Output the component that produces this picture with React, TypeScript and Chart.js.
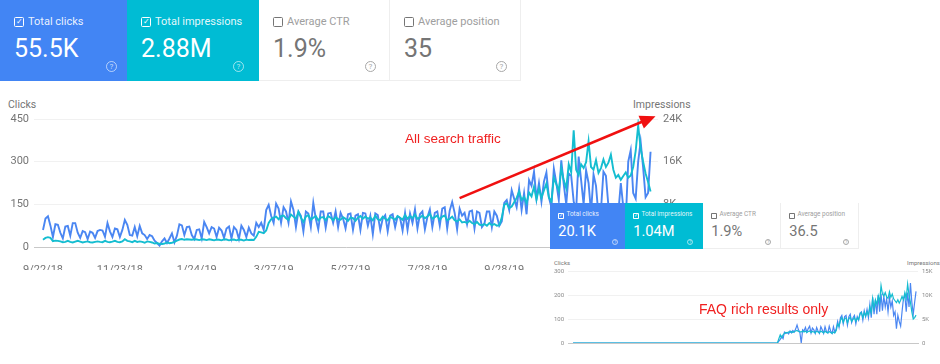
import React, { useEffect, useRef } from "react";
import { Chart, registerables } from "chart.js";

Chart.register(...registerables);

const BLUE = "#4285f4";
const TEAL = "#00bcd4";
const LINE_BLUE = "#4a86f2";
const LINE_TEAL = "#14bdd0";

const dateLabels = ["9/22/18", "11/23/18", "1/24/19", "3/27/19", "5/27/19", "7/28/19", "9/28/19", "11/29/19"];
const mainTicks = dateLabels.slice(0, 7);

const mainClicks = [
  60, 100, 108, 75, 35, 80, 78, 50, 30, 72, 74, 40, 84, 84, 50, 32, 56, 52, 28, 54,
  50, 32, 56, 60, 58, 36, 84, 55, 35, 65, 62, 35, 60, 95, 78, 42, 40, 70, 38, 74,
  48, 42, 28, 42, 38, 22, 14, 5, 20, 30, 14, 30, 48, 16, 40, 80, 76, 42, 70, 72,
  42, 28, 60, 62, 30, 88, 70, 48, 70, 65, 35, 68, 58, 32, 65, 72, 30, 70, 60, 28,
  75, 60, 35, 68, 48, 40, 85, 70, 85, 60, 130, 148, 110, 85, 152, 135, 85, 140, 125, 85,
  160, 130, 70, 125, 110, 55, 125, 118, 70, 155, 100, 62, 125, 125, 68, 118, 120, 85, 125, 70,
  120, 100, 65, 115, 118, 60, 110, 115, 60, 120, 118, 75, 110, 45, 118, 112, 60, 100, 112, 55,
  110, 115, 70, 108, 102, 58, 120, 60, 118, 85, 132, 65, 115, 125, 62, 105, 132, 70, 120, 125,
  75, 135, 140, 65, 128, 158, 120, 62, 135, 110, 120, 80, 125, 128, 65, 125, 120, 70, 82, 125,
  125, 70, 125, 110, 75, 90, 155, 165, 130, 200, 170, 140, 205, 130, 190, 115, 235, 215, 265, 170,
  225, 160, 230, 262, 175, 140, 275, 225, 165, 305, 220, 150, 258, 250, 160, 130, 318, 235, 150, 270,
  225, 120, 255, 215, 110, 130, 265, 250, 145, 100, 110, 105, 120, 225, 140, 95, 300, 340, 190, 170,
  300, 370, 280, 175, 190, 335,
];

const mainImpressions = [
  1350, 1700, 1850, 1700, 1100, 1200, 1150, 1050, 900, 950, 1150, 950, 850, 1000, 1150, 1000, 850, 950, 1050, 900,
  850, 950, 1050, 950, 900, 1150, 950, 900, 1000, 1150, 950, 900, 1050, 1450, 1150, 1050, 900, 1150, 950, 1050,
  950, 800, 1050, 950, 850, 650, 750, 600, 550, 650, 850, 700, 800, 950, 1200, 1400, 1500, 1350, 1450, 1400,
  1350, 1450, 1400, 1300, 1450, 1400, 1300, 1450, 1350, 1250, 1400, 1350, 1250, 1450, 1400, 1250, 1350, 1400, 1250, 1400,
  1350, 1200, 1400, 1300, 1350, 1300, 1900, 2850, 2750, 2600, 3100, 4500, 5200, 5500, 5700, 5200, 5800, 5900, 5400, 5100,
  6100, 5700, 5300, 6600, 5500, 4700, 5700, 6000, 5100, 5500, 5800, 5000, 5500, 5600, 5000, 5800, 5500, 5000, 5600, 5200,
  5100, 5600, 5300, 4900, 5500, 5400, 4900, 5500, 5800, 5300, 5700, 5300, 5500, 5000, 5900, 5200, 5000, 5700, 5300, 5000,
  5700, 5400, 5100, 5800, 5500, 5100, 6000, 5300, 5800, 5400, 6100, 5300, 5500, 5900, 5400, 5700, 6200, 5300, 5600, 5900,
  5100, 5700, 5900, 5000, 5300, 5700, 5000, 4800, 5200, 4600, 4700, 4500, 4900, 4500, 4300, 4700, 4200, 4100, 4300, 4000,
  4500, 4100, 4300, 4000, 4100, 5500, 7900, 8200, 7300, 7600, 8400, 9200, 10400, 8800, 9400, 8200, 10200, 9500, 11300, 8900,
  11000, 9200, 10600, 11900, 9300, 8500, 13000, 11800, 10500, 14800, 12500, 11000, 15500, 14000, 21900, 14500, 13500, 15500, 14800, 15900,
  19800, 15000, 14500, 16300, 13900, 14800, 16400, 15000, 15800, 17300, 14500, 13000, 13500, 12600, 13300, 14000, 13000, 13400, 15000, 18000,
  22800, 18500, 16000, 13800, 12200, 10400, 9600, 10000, 10600,
].slice(0, 246);

const faqClicks = [
  0, 0, 0, 0, 0, 0, 0, 0, 0, 0, 0, 0, 0, 0, 0, 0, 0, 0, 0, 0,
  0, 0, 0, 0, 0, 0, 0, 0, 0, 0, 0, 0, 0, 0, 0, 0, 0, 0, 0, 0,
  0, 0, 0, 0, 0, 0, 0, 0, 0, 0, 0, 0, 0, 0, 0, 0, 0, 0, 0, 0,
  0, 0, 0, 0, 0, 0, 0, 0, 0, 0, 0, 0, 0, 0, 0, 0, 0, 0, 0, 0,
  0, 0, 0, 0, 0, 0, 0, 0, 0, 0, 0, 0, 0, 0, 0, 0, 0, 0, 0, 0,
  0, 0, 0, 0, 0, 0, 0, 0, 0, 0, 0, 0, 0, 0, 0, 0, 0, 0, 0, 0,
  0, 0, 0, 0, 0, 0, 0, 0, 0, 0, 0, 0, 0, 0, 0, 0, 0, 0, 0, 0,
  0, 0, 0, 0, 0, 0, 0, 8, 15, 28, 18, 45, 40, 44, 38, 50, 42, 52, 45, 58,
  75, 55, 45, 0, 55, 50, 65, 45, 60, 70, 42, 62, 55, 40, 65, 50, 40, 68, 55, 40,
  68, 48, 42, 70, 50, 40, 68, 45, 60, 90, 65, 105, 115, 80, 110, 115, 75, 110, 120, 85,
  105, 115, 80, 110, 95, 125, 130, 95, 135, 110, 140, 105, 160, 105, 190, 120, 180, 120, 200, 130,
  205, 135, 195, 150, 185, 130, 190, 150, 175, 115, 130, 60, 115, 90, 70, 130, 185, 200, 130, 210,
  150, 250, 170, 120, 170, 215,
];

const faqImpressions = [
  0, 0, 0, 0, 0, 0, 0, 0, 0, 0, 0, 0, 0, 0, 0, 0, 0, 0, 0, 0,
  0, 0, 0, 0, 0, 0, 0, 0, 0, 0, 0, 0, 0, 0, 0, 0, 0, 0, 0, 0,
  0, 0, 0, 0, 0, 0, 0, 0, 0, 0, 0, 0, 0, 0, 0, 0, 0, 0, 0, 0,
  0, 0, 0, 0, 0, 0, 0, 0, 0, 0, 0, 0, 0, 0, 0, 0, 0, 0, 0, 0,
  0, 0, 0, 0, 0, 0, 0, 0, 0, 0, 0, 0, 0, 0, 0, 0, 0, 0, 0, 0,
  0, 0, 0, 0, 0, 0, 0, 0, 0, 0, 0, 0, 0, 0, 0, 0, 0, 0, 0, 0,
  0, 0, 0, 0, 0, 0, 0, 0, 0, 0, 0, 0, 0, 0, 0, 0, 0, 0, 0, 0,
  0, 0, 0, 0, 0, 0, 0, 900, 1700, 1100, 1700, 2000, 2200, 2100, 2300, 2200, 2400, 2200, 2400, 2500,
  2600, 2400, 2300, 2300, 2500, 2300, 2500, 2200, 2400, 2500, 2200, 2400, 2300, 2100, 2500, 2300, 2100, 2500, 2300, 2100,
  2500, 2200, 2100, 2400, 2200, 2000, 2300, 2100, 2600, 4000, 3500, 4700, 5300, 4300, 5100, 5200, 4200, 5000, 5400, 4500,
  4900, 5300, 4500, 5200, 4900, 6000, 6300, 5300, 6400, 5600, 6500, 5800, 7500, 6300, 9300, 7200, 9000, 8000, 9800, 8500,
  12000, 10200, 9800, 10500, 9600, 9300, 10700, 9500, 10200, 9200, 8800, 8400, 9000, 8300, 8900, 9700, 9000, 10500, 9300, 12300,
  10000, 8500, 6500, 5000, 5300, 5800,
];

const mainClickTicks = [0, 150, 300, 450];
const mainImpressionTicks = [0, 8000, 16000, 24000];
const faqClickTicks = [0, 100, 200, 300];
const faqImpressionTicks = [0, 5000, 10000, 15000];

const arrowStart = { day: 168, clicks: 172 };
const arrowEnd = { day: 247, clicks: 460 };

const toPoints = (values: number[]) => values.map((y, x) => ({ x, y }));
const kLabel = (v: number) => (v === 0 ? "0" : `${v / 1000}K`);

const arrowPlugin = {
  id: "trafficArrow",
  afterDatasetsDraw(chart: any) {
    const { x, y } = chart.scales;
    const x0 = x.getPixelForValue(arrowStart.day);
    const y0 = y.getPixelForValue(arrowStart.clicks);
    const x1 = x.getPixelForValue(arrowEnd.day);
    const y1 = y.getPixelForValue(arrowEnd.clicks);
    const a = Math.atan2(y1 - y0, x1 - x0);
    const ctx = chart.ctx;
    ctx.save();
    ctx.strokeStyle = "#f01010";
    ctx.fillStyle = "#f01010";
    ctx.lineWidth = 2.6;
    ctx.beginPath();
    ctx.moveTo(x0, y0);
    ctx.lineTo(x1 - 10 * Math.cos(a), y1 - 10 * Math.sin(a));
    ctx.stroke();
    ctx.beginPath();
    ctx.moveTo(x1, y1);
    ctx.lineTo(x1 - 17 * Math.cos(a - 0.42), y1 - 17 * Math.sin(a - 0.42));
    ctx.lineTo(x1 - 17 * Math.cos(a + 0.42), y1 - 17 * Math.sin(a + 0.42));
    ctx.closePath();
    ctx.fill();
    ctx.restore();
  },
};

type PanelProps = {
  left: number; top: number; width: number; height: number;
  padTop: number; leftAxis: number; rightAxis: number; bottomAxis: number;
  xMin: number; xMax: number; yMax: number; y2Max: number;
  clicks: number[]; impressions: number[];
  labels: string[]; yTicks: number[]; y2Ticks: number[];
  fontSize: number; lineWidth: number; tickPad: number; xPad: number; color: string; withArrow?: boolean;
};

function Panel(p: PanelProps) {
  const ref = useRef<HTMLCanvasElement | null>(null);
  useEffect(() => {
    if (!ref.current) return;
    const font = { family: "Roboto", size: p.fontSize };
    const chart = new Chart(ref.current, {
      type: "line",
      data: {
        datasets: [
          { data: toPoints(p.impressions), yAxisID: "y2", borderColor: LINE_TEAL, borderWidth: p.lineWidth, pointRadius: 0, tension: 0 },
          { data: toPoints(p.clicks), yAxisID: "y", borderColor: LINE_BLUE, borderWidth: p.lineWidth, pointRadius: 0, tension: 0 },
        ],
      },
      options: {
        responsive: false,
        animation: false,
        layout: { padding: { top: p.padTop, left: 0, right: 0, bottom: 0 } },
        plugins: { legend: { display: false }, tooltip: { enabled: false } },
        scales: {
          x: {
            type: "linear",
            min: p.xMin,
            max: p.xMax,
            afterBuildTicks: (s: any) => { s.ticks = p.labels.map((_, k) => ({ value: k * 31 })); },
            afterFit: (s: any) => { s.height = p.bottomAxis; },
            grid: { display: false },
            border: { color: "#c8c8c8", width: 1 },
            ticks: {
              color: p.color, font, padding: p.xPad, maxRotation: 0, autoSkip: false,
              callback: (_v: any, i: number) => p.labels[i],
            },
          },
          y: {
            min: 0, max: p.yMax, position: "left",
            afterBuildTicks: (s: any) => { s.ticks = p.yTicks.map((value) => ({ value })); },
            afterFit: (s: any) => { s.width = p.leftAxis; },
            grid: { color: "#f1f1f1", drawTicks: false },
            border: { display: false },
            ticks: { color: p.color, font, padding: p.tickPad, callback: (v: any) => String(v) },
          },
          y2: {
            min: 0, max: p.y2Max, position: "right",
            afterBuildTicks: (s: any) => { s.ticks = p.y2Ticks.map((value) => ({ value })); },
            afterFit: (s: any) => { s.width = p.rightAxis; },
            grid: { display: false, drawTicks: false },
            border: { display: false },
            ticks: { color: p.color, font, padding: p.tickPad, callback: (v: any) => kLabel(Number(v)) },
          },
        },
      } as any,
      plugins: p.withArrow ? [arrowPlugin] : [],
    });
    return () => chart.destroy();
  }, []);
  return (
    <canvas
      ref={ref}
      width={p.width}
      height={p.height}
      style={{ position: "absolute", left: p.left, top: p.top, width: p.width, height: p.height }}
    />
  );
}

type CardProps = { x: number; y: number; w: number; h: number; label: string; value: string; fill?: string; k: number };

function Card({ x, y, w, h, label, value, fill, k }: CardProps) {
  const on = !!fill;
  const fg = on ? "#ffffff" : "#757575";
  const lab = on ? "rgba(255,255,255,0.9)" : "#9e9e9e";
  return (
    <div style={{
      position: "absolute", left: x, top: y, width: w, height: h, boxSizing: "border-box",
      background: fill || "#fff", borderRight: on ? "none" : "1px solid #eeeeee", borderBottom: on ? "none" : "1px solid #eeeeee",
      fontFamily: "Roboto", overflow: "hidden",
    }}>
      <div style={{
        position: "absolute", left: 14 * k, top: 17 * k, width: 10 * k, height: 10 * k, boxSizing: "border-box",
        border: `${Math.max(1, 1.4 * k)}px solid ${on ? "#fff" : "#757575"}`, borderRadius: 1.5 * k, color: "#fff",
        fontSize: 8 * k, lineHeight: `${8 * k}px`, textAlign: "center",
      }}>{on ? "✓" : ""}</div>
      <div style={{ position: "absolute", left: 28 * k, top: 14.5 * k, fontSize: 11 * k, lineHeight: `${13 * k}px`, color: lab, whiteSpace: "nowrap" }}>{label}</div>
      <div style={{ position: "absolute", left: 14 * k, top: 34 * k, fontSize: 25 * k, lineHeight: `${30 * k}px`, color: fg, whiteSpace: "nowrap" }}>{value}</div>
      <div style={{
        position: "absolute", left: 106 * k, top: 61 * k, width: 11 * k, height: 11 * k, boxSizing: "border-box",
        border: `1px solid ${on ? "rgba(255,255,255,0.6)" : "#a8a8a8"}`, borderRadius: "50%",
        color: on ? "rgba(255,255,255,0.7)" : "#a8a8a8", fontSize: 8 * k, lineHeight: `${9 * k}px`, textAlign: "center",
      }}>?</div>
    </div>
  );
}

const axisTitle = (left: number, top: number, size: number, text: string) => (
  <div style={{ position: "absolute", left, top, fontFamily: "Roboto", fontSize: size, lineHeight: `${size + 2}px`, color: "#757575", whiteSpace: "nowrap" }}>{text}</div>
);

const note = (left: number, top: number, size: number, text: string) => (
  <div style={{ position: "absolute", left, top, fontFamily: "Liberation Sans", fontSize: size, lineHeight: `${size + 2}px`, color: "#f02020", whiteSpace: "nowrap" }}>{text}</div>
);

export default function App() {
  return (
    <div style={{ position: "absolute", left: 0, top: 0, width: 940, height: 364, overflow: "hidden", background: "#fff" }}>
      <Card x={0} y={0} w={127} h={81} k={1} label="Total clicks" value="55.5K" fill={BLUE} />
      <Card x={127} y={0} w={132} h={81} k={1} label="Total impressions" value="2.88M" fill={TEAL} />
      <Card x={259} y={0} w={131} h={81} k={1} label="Average CTR" value="1.9%" />
      <Card x={390} y={0} w={131} h={81} k={1} label="Average position" value="35" />

      {axisTitle(8, 99, 10.5, "Clicks")}
      {axisTitle(633, 99, 10.5, "Impressions")}
      <Panel
        left={0} top={100} width={690} height={170} padTop={19}
        leftAxis={34} rightAxis={32} bottomAxis={23}
        xMin={-3.63} xMax={248} yMax={450} y2Max={24000}
        clicks={mainClicks} impressions={mainImpressions}
        labels={mainTicks} yTicks={mainClickTicks} y2Ticks={mainImpressionTicks}
        fontSize={11} lineWidth={1.9} tickPad={5} xPad={9} color="#757575" withArrow
      />
      {note(405, 131, 13.5, "All search traffic")}

      <div style={{ position: "absolute", left: 530, top: 249, width: 410, height: 115, background: "#fff" }} />
      <Card x={550} y={203} w={75} h={46} k={0.585} label="Total clicks" value="20.1K" fill={BLUE} />
      <Card x={625} y={203} w={78} h={46} k={0.585} label="Total impressions" value="1.04M" fill={TEAL} />
      <Card x={703} y={203} w={78} h={46} k={0.585} label="Average CTR" value="1.9%" />
      <Card x={781} y={203} w={78} h={46} k={0.585} label="Average position" value="36.5" />

      {axisTitle(554, 259, 6, "Clicks")}
      {axisTitle(907, 259, 6, "Impressions")}
      <Panel
        left={545} top={262} width={395} height={95} padTop={9}
        leftAxis={23} rightAxis={22} bottomAxis={14}
        xMin={-3.6} xMax={246.4} yMax={300} y2Max={15000}
        clicks={faqClicks} impressions={faqImpressions}
        labels={dateLabels} yTicks={faqClickTicks} y2Ticks={faqImpressionTicks}
        fontSize={6} lineWidth={1.2} tickPad={4} xPad={6} color="#8a8a8a"
      />
      {note(699, 301, 14, "FAQ rich results only")}
    </div>
  );
}
